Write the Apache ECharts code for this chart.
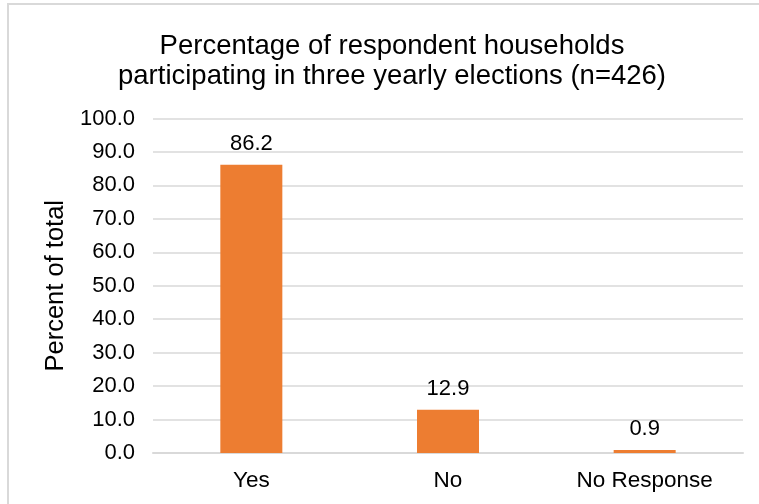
<!DOCTYPE html>
<html>
<head>
<meta charset="utf-8">
<style>
  html, body { margin: 0; padding: 0; background: #ffffff; }
  #chart { width: 759px; height: 504px; }
</style>
<script src="https://cdn.jsdelivr.net/npm/echarts@6/dist/echarts.min.js"></script>
</head>
<body>
<div id="chart"></div>
<script>
// Survey responses: share of households that took part in three yearly elections
const categories = ['Yes', 'No', 'No Response'];
const percentValues = [86.2, 12.9, 0.9];
const yTicks = { min: 0, max: 100, interval: 10 };

const FONT = '"Liberation Sans", Arial, sans-serif';
const BAR_COLOR = '#ED7D31';
const GRID_COLOR = '#d9d9d9';

const chart = echarts.init(document.getElementById('chart'), null, { renderer: 'canvas' });

chart.setOption({
  animation: false,
  backgroundColor: '#ffffff',
  title: {
    text: 'Percentage of respondent households\nparticipating in three yearly elections (n=426)',
    left: 387,
    top: 27,
    textAlign: 'center',
    textStyle: {
      fontFamily: FONT,
      fontSize: 27.5,
      fontWeight: 'normal',
      color: '#000000',
      lineHeight: 29.5
    }
  },
  graphic: [{
    // chart frame
    type: 'rect',
    shape: { x: 8, y: 4, width: 800, height: 600 },
    style: { fill: 'none', stroke: '#d9d9d9', lineWidth: 2 },
    silent: true
  }],
  grid: {
    left: 153,
    right: 16,
    top: 118.5,
    bottom: 51,
    containLabel: false
  },
  xAxis: {
    type: 'category',
    data: categories,
    axisTick: { show: false },
    axisLine: { show: true, lineStyle: { color: GRID_COLOR, width: 2 } },
    axisLabel: {
      fontFamily: FONT,
      fontSize: 22.5,
      color: '#000000',
      margin: 16
    }
  },
  yAxis: {
    type: 'value',
    min: yTicks.min,
    max: yTicks.max,
    interval: yTicks.interval,
    name: 'Percent of total',
    nameLocation: 'middle',
    nameGap: 84,
    nameRotate: 90,
    nameTextStyle: {
      fontFamily: FONT,
      fontSize: 25.5,
      color: '#000000'
    },
    axisLine: { show: false },
    axisTick: { show: false },
    splitLine: { lineStyle: { color: GRID_COLOR, width: 1.5 } },
    axisLabel: {
      fontFamily: FONT,
      fontSize: 22,
      color: '#000000',
      margin: 18,
      formatter: v => v.toFixed(1)
    }
  },
  series: [{
    type: 'bar',
    data: percentValues,
    barWidth: 62,
    itemStyle: { color: BAR_COLOR },
    label: {
      show: true,
      position: 'top',
      distance: 10,
      fontFamily: FONT,
      fontSize: 22,
      color: '#000000',
      formatter: p => p.value.toFixed(1)
    }
  }]
});
</script>
</body>
</html>
